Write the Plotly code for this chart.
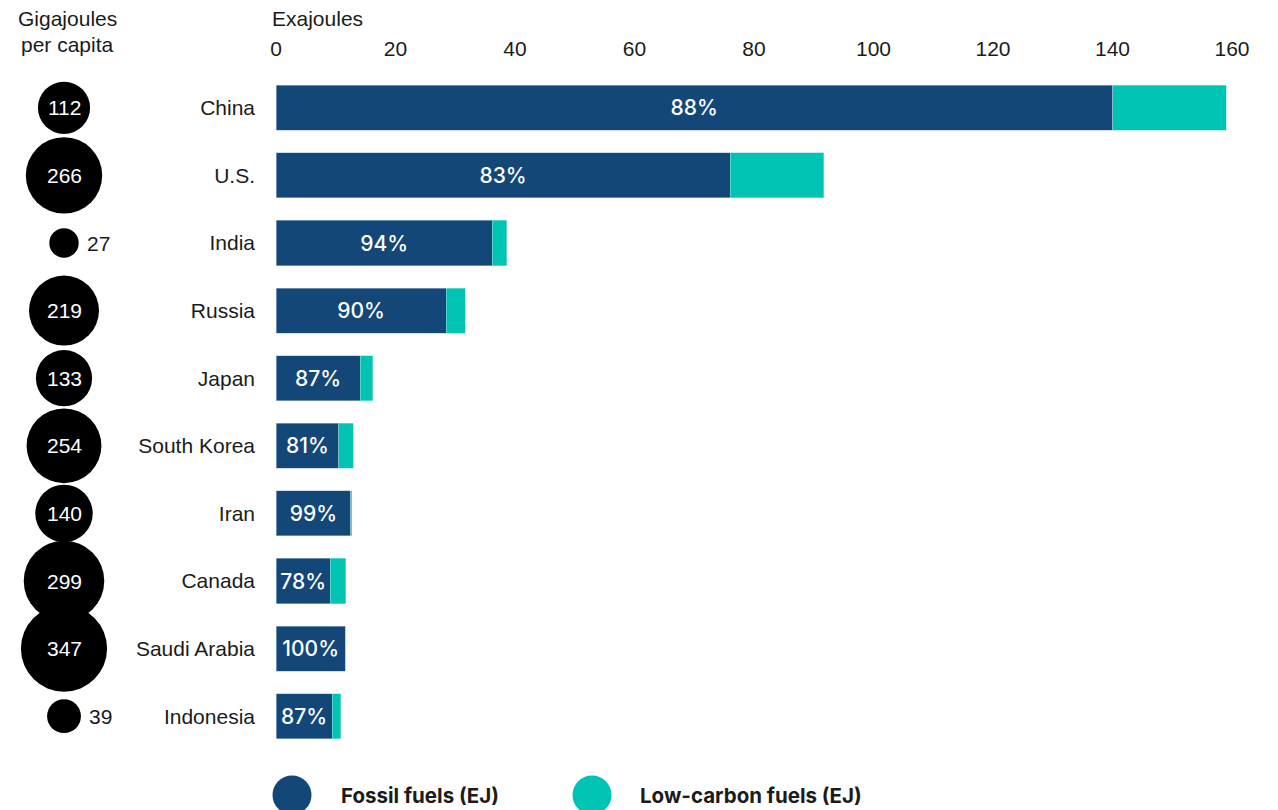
import plotly.graph_objects as go

# Primary energy consumption by country (exajoules) and per-capita use (GJ)
countries = ["China", "U.S.", "India", "Russia", "Japan", "South Korea",
             "Iran", "Canada", "Saudi Arabia", "Indonesia"]
fossil_ej = [140.0, 76.0, 36.2, 28.5, 14.1, 10.5, 12.5, 9.1, 11.6, 9.4]
low_carbon_ej = [19.0, 15.7, 2.4, 3.2, 2.1, 2.4, 0.15, 2.6, 0.0, 1.4]
gj_per_capita = [112, 266, 27, 219, 133, 254, 140, 299, 347, 39]
x_ticks = [0, 20, 40, 60, 80, 100, 120, 140, 160]

FOSSIL = "#134778"
LOW_CARBON = "#00C4B3"
INK = "#1b1b1b"
SANS = "Liberation Sans, Arial, sans-serif"
LABEL = "Inter"

W, H = 1278, 810
M_T, M_B = 74, 60
PLOT_L, PLOT_R = 276, 1232
plot_h = H - M_T - M_B
BUBBLE_X = 64


def px_x(px):
    return px / W


def px_y(py):
    return (H - M_B - py) / plot_h


fossil_share = [f"{round(100 * f / (f + l))}%" for f, l in zip(fossil_ej, low_carbon_ej)]

# bubble diameters grow with the square root of per-capita use
bubble_d = [7.4 + 4.23 * v ** 0.5 for v in gj_per_capita]

fig = go.Figure()

fig.add_trace(go.Bar(
    y=countries, x=fossil_ej, orientation="h", name="Fossil fuels (EJ)",
    marker=dict(color=FOSSIL, line=dict(color="rgba(170,195,220,0.7)", width=0.8)),
    text=fossil_share, textposition="inside", insidetextanchor="middle",
    textangle=0, constraintext="none",
    textfont=dict(family=LABEL, size=21, color="white", weight=500),
    hoverinfo="skip", showlegend=False,
))
fig.add_trace(go.Bar(
    y=countries, x=low_carbon_ej, orientation="h", name="Low-carbon fuels (EJ)",
    marker=dict(color=LOW_CARBON, line=dict(color="rgba(150,225,220,0.7)", width=0.8)),
    hoverinfo="skip", showlegend=False,
))

fig.add_trace(go.Scatter(
    x=[BUBBLE_X] * len(countries), y=countries, xaxis="x2", yaxis="y",
    mode="markers",
    marker=dict(size=bubble_d, sizemode="diameter", color="black",
                opacity=1, line=dict(width=0)),
    cliponaxis=False, hoverinfo="skip", showlegend=False,
))

annotations = []
# per-capita values: inside large bubbles, beside small ones
for c, v, d in zip(countries, gj_per_capita, bubble_d):
    if v < 60:
        annotations.append(dict(
            text=str(v), x=BUBBLE_X + d / 2 + 6, y=c, xref="x2", yref="y",
            xanchor="left", yanchor="middle", showarrow=False,
            font=dict(family=SANS, size=21, color=INK)))
    else:
        annotations.append(dict(
            text=str(v), x=BUBBLE_X, y=c, xref="x2", yref="y",
            xanchor="center", yanchor="middle", showarrow=False,
            font=dict(family=SANS, size=21, color="white")))

page_text = [
    dict(text="Exajoules", x=px_x(270), y=px_y(18), xanchor="left", yanchor="middle",
         font=dict(family=SANS, size=21, color=INK)),
    dict(text="Gigajoules", x=px_x(67), y=px_y(18), xanchor="center", yanchor="middle",
         font=dict(family=SANS, size=21, color=INK)),
    dict(text="per capita", x=px_x(67), y=px_y(44), xanchor="center", yanchor="middle",
         font=dict(family=SANS, size=21, color=INK)),
    dict(text="<b>Fossil fuels (EJ)</b>", x=px_x(339), y=px_y(795), xanchor="left",
         yanchor="middle", font=dict(family=LABEL, size=20.5, color=INK)),
    dict(text="<b>Low-carbon fuels (EJ)</b>", x=px_x(638), y=px_y(795), xanchor="left",
         yanchor="middle", font=dict(family=LABEL, size=20.5, color=INK)),
]
for a in page_text:
    a.update(xref="paper", yref="paper", showarrow=False)
annotations += page_text

shapes = []
for cx, col in [(292, FOSSIL), (592, LOW_CARBON)]:
    shapes.append(dict(
        type="circle", xref="paper", yref="paper",
        xsizemode="pixel", ysizemode="pixel",
        xanchor=px_x(cx), yanchor=px_y(795),
        x0=-19.5, x1=19.5, y0=-19.5, y1=19.5,
        fillcolor=col, line=dict(width=0),
    ))

fig.update_layout(
    width=W, height=H,
    margin=dict(l=0, r=0, t=M_T, b=M_B, autoexpand=False),
    paper_bgcolor="white", plot_bgcolor="white",
    barmode="stack", bargap=0.334,
    font=dict(family=SANS, size=21, color=INK),
    xaxis=dict(
        domain=[PLOT_L / W, PLOT_R / W], range=[0, 160], side="top",
        tickvals=x_ticks, ticktext=[str(t) for t in x_ticks],
        showgrid=False, zeroline=False, showline=False, ticks="",
        ticklabelstandoff=13, tickfont=dict(family=SANS, size=21, color=INK),
        automargin=False, fixedrange=True,
    ),
    xaxis2=dict(
        domain=[0, 256 / W], range=[0, 256], anchor="y", visible=False,
        automargin=False, fixedrange=True,
    ),
    yaxis=dict(
        categoryorder="array", categoryarray=countries,
        range=[len(countries) - 0.5, -0.5],
        showgrid=False, zeroline=False, showline=False, ticks="",
        ticklabelstandoff=20, tickfont=dict(family=SANS, size=21, color=INK),
        automargin=False, fixedrange=True,
    ),
    annotations=annotations,
    shapes=shapes,
)

fig.write_html("out.html")
